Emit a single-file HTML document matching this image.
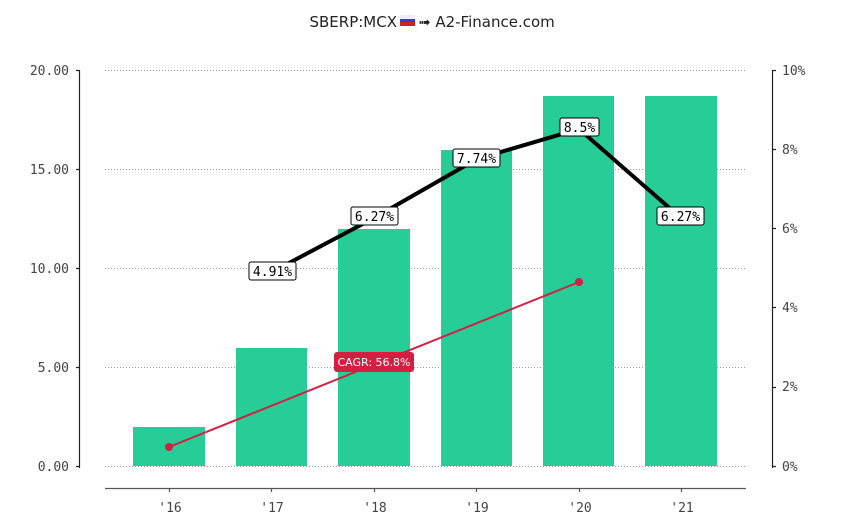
<!DOCTYPE html>
<html><head><style>body{margin:0;background:#fff}</style></head><body>
<svg width="850" height="526" xmlns="http://www.w3.org/2000/svg" font-family="'DejaVu Sans Mono','Liberation Mono',monospace">
<text x="397" y="27" text-anchor="end" font-family="'DejaVu Sans','Liberation Sans',sans-serif" font-size="15" fill="#222">SBERP:MCX</text>
<rect x="400" y="15" width="15" height="4" fill="#eee"/><rect x="400" y="19" width="15" height="3" fill="#2a44c8"/><rect x="400" y="22" width="15" height="4" fill="#d42020"/>
<text x="418" y="27" font-family="'DejaVu Sans','Liberation Sans',sans-serif" font-size="15" fill="#222">➟ A2-Finance.com</text>
<g stroke="#999" stroke-dasharray="1,2" stroke-width="1">
<line x1="105" x2="747" y1="70.5" y2="70.5"/><line x1="105" x2="747" y1="169.5" y2="169.5"/><line x1="105" x2="747" y1="268.5" y2="268.5"/><line x1="105" x2="747" y1="367.5" y2="367.5"/><line x1="105" x2="747" y1="466.5" y2="466.5"/>
</g>
<g fill="#26cd97">
<rect x="133" y="427" width="72" height="39"/><rect x="236" y="348" width="71" height="118"/><rect x="338" y="229" width="72" height="237"/><rect x="441" y="150" width="71" height="316"/><rect x="543" y="96" width="71" height="370"/><rect x="645" y="96" width="72" height="370"/>
</g>
<g stroke="#222" stroke-width="1.2" fill="none">
<path d="M79.5 70V468M76 70.5H79.5M76 169.5H79.5M76 268.5H79.5M76 367.5H79.5M76 466.5H79.5"/>
<path d="M772.5 70V468M772.5 70.5H776M772.5 149.5H776M772.5 228.5H776M772.5 307.5H776M772.5 387.5H776M772.5 466.5H776"/>
</g>
<path d="M105 488.5H746M169.5 488V492M271.5 488V492M374.5 488V492M476.5 488V492M579.5 488V492M681.5 488V492" stroke="#555" stroke-width="1.2"/>
<g font-size="13" fill="#444" text-anchor="end">
<text x="69" y="75">20.00</text><text x="69" y="174">15.00</text><text x="69" y="273">10.00</text><text x="69" y="372">5.00</text><text x="69" y="471">0.00</text>
</g>
<g font-size="13" fill="#444">
<text x="782" y="75">10%</text><text x="782" y="154">8%</text><text x="782" y="233">6%</text><text x="782" y="312">4%</text><text x="782" y="391">2%</text><text x="782" y="471">0%</text>
</g>
<g font-size="13" fill="#444" text-anchor="middle">
<text x="170" y="512">'16</text><text x="272" y="512">'17</text><text x="375" y="512">'18</text><text x="477" y="512">'19</text><text x="580" y="512">'20</text><text x="682" y="512">'21</text>
</g>
<polyline points="272,272 374,218 477,159 579,129 681,218" fill="none" stroke="#000" stroke-width="4"/>
<line x1="169" y1="447" x2="579" y2="282" stroke="#d41f43" stroke-width="2"/>
<circle cx="169" cy="447" r="4" fill="#d41f43"/><circle cx="579" cy="282" r="4" fill="#d41f43"/>
<rect x="334" y="352" width="80" height="20" rx="3" fill="#d41f43"/>
<text x="374" y="366" font-size="11" fill="#fff" text-anchor="middle" font-family="'DejaVu Sans','Liberation Sans',sans-serif">CAGR: 56.8%</text>
<g font-size="13" fill="#000" text-anchor="middle">
<rect x="249" y="262" width="47" height="18" rx="2" fill="#fff" stroke="#000"/><text x="272.5" y="276">4.91%</text>
<rect x="351" y="207" width="47" height="18" rx="2" fill="#fff" stroke="#000"/><text x="374.5" y="221">6.27%</text>
<rect x="453" y="149" width="47" height="18" rx="2" fill="#fff" stroke="#000"/><text x="476.5" y="163">7.74%</text>
<rect x="560" y="118" width="39" height="18" rx="2" fill="#fff" stroke="#000"/><text x="579.5" y="132">8.5%</text>
<rect x="657" y="207" width="47" height="18" rx="2" fill="#fff" stroke="#000"/><text x="680.5" y="221">6.27%</text>
</g>
</svg>
</body></html>
